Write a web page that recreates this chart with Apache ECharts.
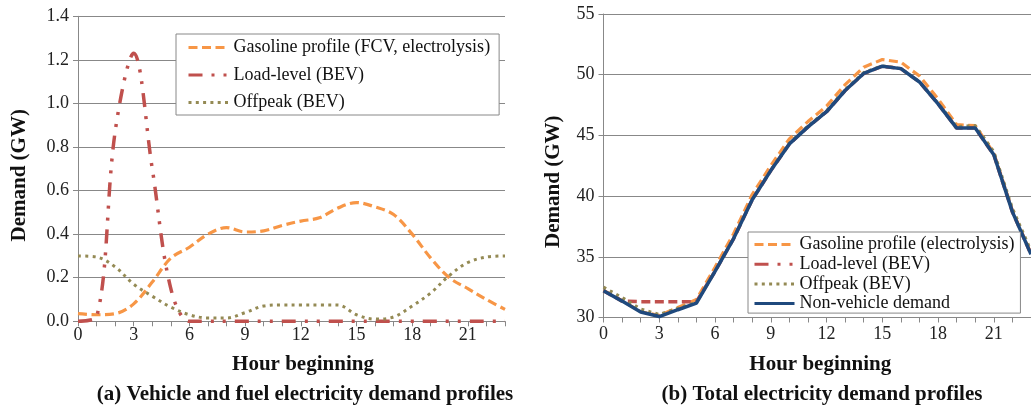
<!DOCTYPE html>
<html>
<head>
<meta charset="utf-8">
<script src="https://cdn.jsdelivr.net/npm/echarts@6/dist/echarts.min.js"></script>
<style>
html, body { margin: 0; padding: 0; background: #fff; overflow: hidden; }
#chart { width: 1031px; height: 411px; }
</style>
</head>
<body>
<div id="chart"></div>
<script>
// hour of day (category axis, both panels)
var hours = ['0','1','2','3','4','5','6','7','8','9','10','11','12','13','14','15','16','17','18','19','20','21','22','23'];

// (a) vehicle and fuel electricity demand, GW
var gasolineA = [0.035,0.03,0.035,0.08,0.18,0.29,0.34,0.40,0.43,0.41,0.415,0.44,0.46,0.475,0.52,0.545,0.525,0.49,0.40,0.29,0.20,0.15,0.10,0.055];
var loadA     = [0,0.02,0.87,1.23,0.70,0.15,0,0,0,0,0,0,0,0,0,0,0,0,0,0,0,0,0,0];
var offpeakA  = [0.30,0.295,0.25,0.17,0.115,0.065,0.03,0.015,0.015,0.04,0.07,0.075,0.075,0.075,0.075,0.03,0.01,0.02,0.07,0.13,0.21,0.27,0.295,0.30];

// (b) total electricity demand, GW
var gasolineB = [32.24,31.38,30.49,30.16,30.82,31.48,34.14,36.9,40.13,42.51,44.72,46.14,47.41,49.18,50.62,51.25,51.03,49.89,48.0,45.89,45.8,43.55,38.8,35.26];
var loadB     = [32.2,31.35,31.3,31.3,31.3,31.3,33.8,36.5,39.7,42.1,44.3,45.7,46.95,48.7,50.1,50.7,50.5,49.4,47.6,45.6,45.6,43.4,38.7,35.2];
var offpeakB  = [32.5,31.65,30.7,30.25,30.76,31.26,33.83,36.52,39.72,42.14,44.37,45.78,47.03,48.78,50.18,50.73,50.51,49.42,47.67,45.73,45.81,43.67,39.0,35.5];
var baseB     = [32.2,31.35,30.45,30.08,30.64,31.19,33.8,36.5,39.7,42.1,44.3,45.7,46.95,48.7,50.1,50.7,50.5,49.4,47.6,45.6,45.6,43.4,38.7,35.2];

var namesA = ['Gasoline profile (FCV, electrolysis)', 'Load-level (BEV)', 'Offpeak (BEV)'];
var namesB = ['Gasoline profile (electrolysis)', 'Load-level (BEV)', 'Offpeak (BEV)', 'Non-vehicle demand'];

var FONT = 'Liberation Serif';
var GRAY = '#888';
var ORANGE = '#f79646', RED = '#c0504d', OLIVE = '#948a54', BLUE = '#1f497d';
var DASH = [9, 4.5], DASHDOT = [14, 9, 3, 9, 3, 9], DOT = [3, 4.3];

function xAx(idx, gap, pad, margin) {
  return {
    type: 'category', gridIndex: idx, data: hours, boundaryGap: false,
    axisLine: { lineStyle: { color: GRAY, width: 1 } },
    axisTick: { show: true, interval: 0, length: 5, lineStyle: { color: GRAY } },
    axisLabel: { interval: 2, color: '#222', fontFamily: FONT, fontSize: 18, margin: margin },
    splitLine: { show: false },
    name: 'Hour beginning', nameLocation: 'middle', nameGap: gap,
    nameTextStyle: { fontFamily: FONT, fontWeight: 'bold', fontSize: 21, color: '#111', padding: pad }
  };
}
function yAx(idx, min, max, step, dec, gap, pad) {
  return {
    type: 'value', gridIndex: idx, min: min, max: max, interval: step,
    axisLine: { show: true, lineStyle: { color: GRAY, width: 1 } },
    axisTick: { show: true, length: 5, lineStyle: { color: GRAY } },
    axisLabel: { color: '#222', fontFamily: FONT, fontSize: 18, margin: 9,
      formatter: function (v) { return v.toFixed(dec); } },
    splitLine: { show: true, lineStyle: { color: GRAY, width: 1 } },
    name: 'Demand (GW)', nameLocation: 'middle', nameRotate: 90, nameGap: gap,
    nameTextStyle: { fontFamily: FONT, fontWeight: 'bold', fontSize: 21, color: '#111', padding: pad }
  };
}
function line(name, idx, data, color, type, width, smooth) {
  return {
    name: name, type: 'line', xAxisIndex: idx, yAxisIndex: idx, data: data,
    smooth: smooth, symbol: 'none', showSymbol: false,
    lineStyle: { color: color, width: width, type: type },
    itemStyle: { color: color }
  };
}
function legend(names, left, top, gap, pad) {
  return {
    data: names, orient: 'vertical', left: left, top: top, itemGap: gap,
    itemWidth: 40, itemHeight: 12, padding: pad, selectedMode: false,
    borderColor: GRAY, borderWidth: 1, backgroundColor: '#fff',
    lineStyle: { width: 3 },
    // hide the symbol dot, keep only the line sample
    itemStyle: { opacity: 0, borderWidth: 0 },
    textStyle: { fontFamily: FONT, fontSize: 18, color: '#111', lineHeight: 19 }
  };
}

var chart = echarts.init(document.getElementById('chart'));
chart.setOption({
  animation: false,
  backgroundColor: '#fff',
  grid: [
    { left: 78, top: 16.3, width: 427, height: 305 },
    { left: 603.5, top: 14, width: 431, height: 303.5 }
  ],
  xAxis: [xAx(0, 33, [0, 0, 0, 23], 5), xAx(1, 36.5, [0, 0, 0, 6], 8)],
  yAxis: [yAx(0, 0, 1.4, 0.2, 1, 48, [0, 13, 0, 0]), yAx(1, 30, 55, 5, 0, 39.5, [0, 32, 0, 0])],
  legend: [
    legend(namesA, 176, 34, 8.5, [4, 9, 3, 11]),
    legend(namesB, 748, 232, 0.7, [3, 6, 0, 5])
  ],
  graphic: [
    { type: 'text', x: 305, y: 395, silent: true,
      style: { text: '(a) Vehicle and fuel electricity demand profiles', fontFamily: FONT, fontWeight: 'bold', fontSize: 21, fill: '#111',
        align: 'center', verticalAlign: 'middle', textAlign: 'center', textVerticalAlign: 'middle' } },
    { type: 'text', x: 822, y: 395, silent: true,
      style: { text: '(b) Total electricity demand profiles', fontFamily: FONT, fontWeight: 'bold', fontSize: 21, fill: '#111',
        align: 'center', verticalAlign: 'middle', textAlign: 'center', textVerticalAlign: 'middle' } }
  ],
  series: [
    line(namesA[0], 0, gasolineA, ORANGE, DASH, 3.2, 0.35),
    line(namesA[1], 0, loadA, RED, DASHDOT, 3.5, 0.35),
    line(namesA[2], 0, offpeakA, OLIVE, DOT, 3, 0.35),
    line(namesB[0], 1, gasolineB, ORANGE, DASH, 3.2, false),
    line(namesB[1], 1, loadB, RED, DASH, 3.5, false),
    line(namesB[2], 1, offpeakB, OLIVE, DOT, 3, false),
    line(namesB[3], 1, baseB, BLUE, 'solid', 3.5, false)
  ]
});
</script>
</body>
</html>
